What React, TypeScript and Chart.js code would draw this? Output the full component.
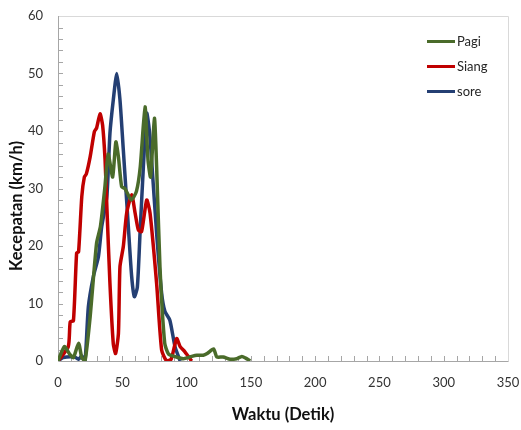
import React, { useEffect, useRef } from "react";
import { Chart, registerables } from "chart.js";

Chart.register(...registerables);

const pagiT = [0, 5, 9, 12, 16, 18.5, 21, 25, 30, 33, 36.5, 39, 42.5, 45, 47, 49.5, 52, 57, 61, 64, 67.7, 70, 72, 75, 76.7, 79.3, 83, 86, 92, 97.5, 104, 108, 113, 116, 121, 123.5, 128.5, 134, 139, 143, 146, 149.5];
const pagiV = [0, 2.5, 1.2, 0.6, 3.1, 0.6, 0, 7.7, 20.5, 23.4, 30.3, 36, 32, 38.1, 35.5, 30.3, 30, 28, 29.5, 33.8, 44.2, 35, 32, 42.2, 33.8, 16.4, 3.1, 1.2, 0.7, 0.4, 0.8, 1, 1, 1.3, 2.1, 0.7, 0.7, 0.3, 0.4, 0.8, 0.5, 0];

const siangT = [0, 8, 9.5, 12, 14.5, 16, 18.5, 20.5, 22, 25, 28.3, 30, 32.7, 34.7, 36.6, 38, 40.4, 43, 44.8, 47, 48.2, 50.8, 53.4, 57.3, 60, 62.5, 65, 69, 71.6, 76.7, 80.6, 84.5, 88, 92.3, 95, 98.7, 104];
const siangV = [0, 2.5, 6.8, 7, 18.8, 19, 28.6, 32, 32.5, 35.5, 39.9, 40.5, 43, 41, 35, 26.8, 13.5, 3, 1.3, 4.8, 16.4, 19.9, 25.7, 28.9, 25.7, 22.8, 22.5, 28, 25.7, 13.5, 1.9, 0, 0.3, 3.9, 2.5, 1.6, 0];

const soreT = [0, 4, 13, 16, 18.5, 21, 23.6, 27.5, 31.4, 34, 38, 40.4, 43, 45.7, 48.2, 50.8, 54.7, 57.3, 59.4, 61.7, 63.8, 66.4, 69, 71, 72.8, 76.7, 80.6, 83.2, 87, 91, 95];
const soreV = [0, 0.6, 0.7, 0.3, 0.9, 0, 9.4, 14.7, 18.1, 23.4, 28.6, 39.6, 45.4, 50, 45.4, 36.7, 23.4, 14.7, 11.2, 12.8, 22.2, 33.8, 43.1, 40.2, 35, 22.2, 11.8, 8.6, 7.1, 2.5, 0];

const seriesNames = ["Pagi", "Siang", "sore"];
const seriesColors = ["#4a6b2a", "#c00000", "#243f73"];

const xTicks = [0, 50, 100, 150, 200, 250, 300, 350];
const yTicks = [0, 10, 20, 30, 40, 50, 60];
const xTitle = "Waktu (Detik)";
const yTitle = "Kecepatan (km/h)";

const FONT = "Lato, 'Open Sans', sans-serif";

const decorPlugin = {
  id: "decor",
  beforeDatasetsDraw(chart: any) {
    const { ctx, chartArea: a, scales } = chart;
    const xs = scales.x;
    const ys = scales.y;
    ctx.save();
    ctx.strokeStyle = "#d9d9d9";
    ctx.lineWidth = 1;
    ctx.beginPath();
    ctx.moveTo(a.left + 0.5, a.top + 0.5);
    ctx.lineTo(a.right + 0.5, a.top + 0.5);
    ctx.lineTo(a.right + 0.5, a.bottom + 0.5);
    ctx.stroke();
    ctx.strokeStyle = "#a6a6a6";
    ctx.beginPath();
    ctx.moveTo(a.left + 0.5, a.top);
    ctx.lineTo(a.left + 0.5, a.bottom + 0.5);
    ctx.lineTo(a.right + 0.5, a.bottom + 0.5);
    ctx.stroke();
    ctx.beginPath();
    for (let v = 10; v < 350; v += 10) {
      const px = Math.round(xs.getPixelForValue(v)) + 0.5;
      ctx.moveTo(px, a.bottom);
      ctx.lineTo(px, a.bottom - 5);
    }
    for (let v = 2; v < 60; v += 2) {
      const py = Math.round(ys.getPixelForValue(v)) + 0.5;
      ctx.moveTo(a.left, py);
      ctx.lineTo(a.left + 5, py);
    }
    ctx.stroke();
    // y-axis title
    ctx.translate(17, 206);
    ctx.rotate(-Math.PI / 2);
    ctx.font = `bold 16.5px ${FONT}`;
    ctx.fillStyle = "#111111";
    ctx.textAlign = "center";
    ctx.textBaseline = "middle";
    ctx.fillText(yTitle, 0, 0);
    ctx.restore();
  },
  afterDraw(chart: any) {
    const { ctx } = chart;
    ctx.save();
    ctx.font = `13px ${FONT}`;
    ctx.textBaseline = "middle";
    ctx.textAlign = "left";
    const ys0 = [41.5, 66.5, 91.5];
    chart.data.datasets.forEach((ds: any, i: number) => {
      const y = ys0[i];
      ctx.strokeStyle = ds.borderColor;
      ctx.lineWidth = 3;
      ctx.beginPath();
      ctx.moveTo(427, y);
      ctx.lineTo(455, y);
      ctx.stroke();
      ctx.fillStyle = "#262626";
      ctx.fillText(ds.label, 457, y + 0.5);
    });
    ctx.restore();
  },
};

export default function App() {
  const ref = useRef<HTMLCanvasElement | null>(null);
  useEffect(() => {
    if (!ref.current) return;
    const mk = (t: number[], v: number[]) => t.map((x, i) => ({ x, y: v[i] }));
    const datasets = [
      mk(pagiT, pagiV),
      mk(siangT, siangV),
      mk(soreT, soreV),
    ].map((data, i) => ({
      label: seriesNames[i],
      data,
      borderColor: seriesColors[i],
      backgroundColor: seriesColors[i],
      borderWidth: 3.5,
      pointRadius: 0,
      tension: 0.2,
      fill: false,
    }));
    const chart = new Chart(ref.current, {
      type: "line",
      data: { datasets },
      options: {
        animation: false,
        responsive: false,
        maintainAspectRatio: false,
        layout: { padding: { left: 0, right: 13, top: 16, bottom: 0 } },
        plugins: { legend: { display: false }, tooltip: { enabled: false } },
        scales: {
          x: {
            type: "linear",
            min: 0,
            max: 350,
            afterBuildTicks: (s: any) => {
              s.ticks = xTicks.map((value) => ({ value }));
            },
            afterFit: (s: any) => {
              s.height = 69;
              s.paddingLeft = 0;
              s.paddingRight = 0;
            },
            grid: { display: false, drawTicks: false },
            border: { display: false },
            ticks: {
              padding: 14,
              color: "#333333",
              font: { family: FONT, size: 13 },
              maxRotation: 0,
            },
            title: {
              display: true,
              text: xTitle,
              color: "#111111",
              font: { family: FONT, size: 16.5, weight: "bold" },
              padding: { top: 0, bottom: 5 },
            },
          },
          y: {
            type: "linear",
            min: 0,
            max: 60,
            afterBuildTicks: (s: any) => {
              s.ticks = yTicks.map((value) => ({ value }));
            },
            afterFit: (s: any) => {
              s.width = 58;
              s.paddingTop = 0;
              s.paddingBottom = 0;
            },
            grid: { display: false, drawTicks: false },
            border: { display: false },
            ticks: {
              padding: 15,
              color: "#333333",
              font: { family: FONT, size: 13 },
            },
            title: { display: false },
          },
        },
      },
      plugins: [decorPlugin],
    });
    return () => chart.destroy();
  }, []);
  return (
    <div style={{ position: "fixed", left: 0, top: 0, width: 521, height: 430, background: "#fff" }}>
      <canvas ref={ref} width={521} height={430} style={{ width: 521, height: 430 }} />
    </div>
  );
}
